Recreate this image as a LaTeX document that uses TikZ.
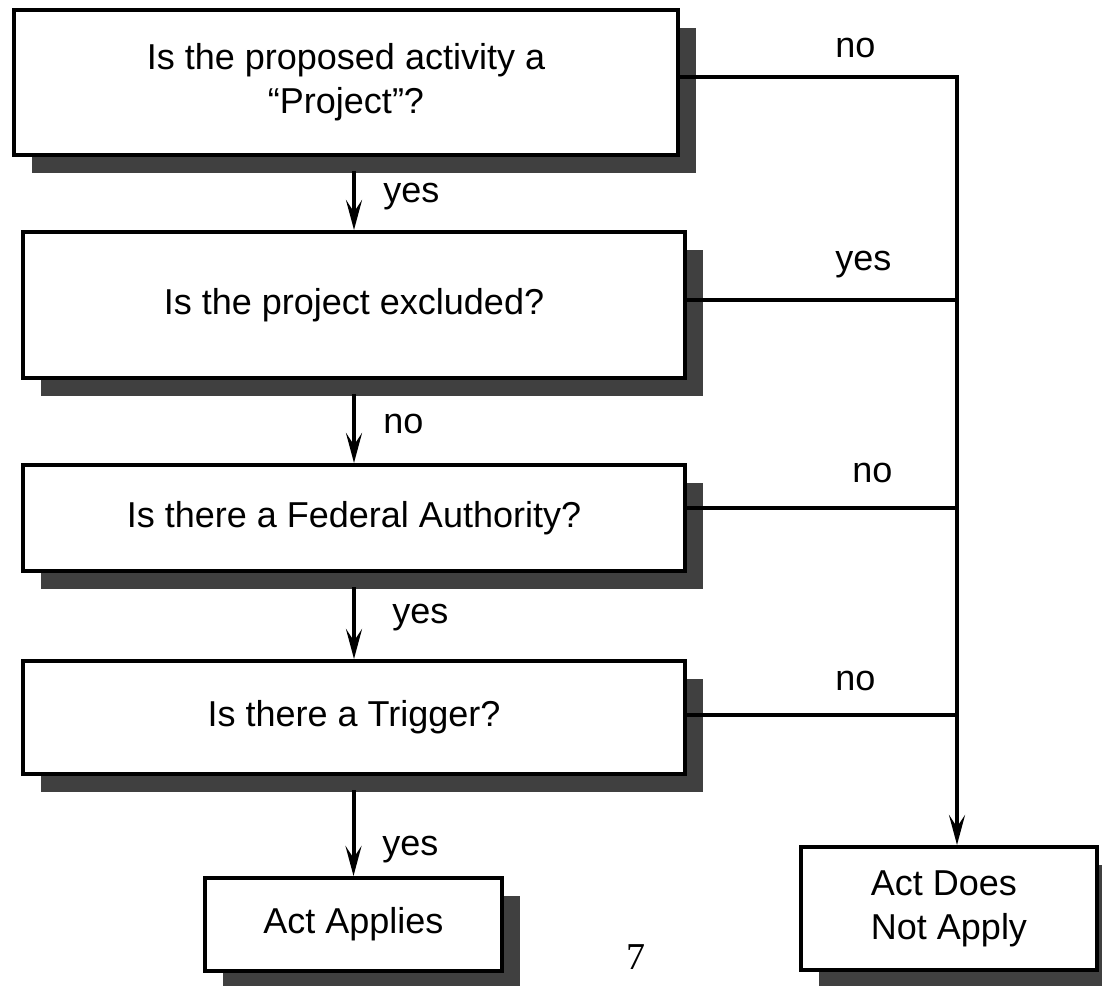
\documentclass[tikz,border=0pt]{standalone}
\usepackage{fontspec}
\setmainfont{Liberation Sans}
\newfontfamily\pagefont{Liberation Serif}
\usepackage{tikz}
\usetikzlibrary{arrows.meta}
\usetikzlibrary{shadows}
\definecolor{shadowgray}{RGB}{64,64,64}

\begin{document}
\begin{tikzpicture}[x=1pt,y=-1pt,
    box/.style={draw=black, line width=4pt, fill=white, align=center, font=\fontsize{36}{44}\selectfont,
        drop shadow={shadow xshift=18pt, shadow yshift=-18pt, fill=shadowgray, opacity=1}},
    flow/.style={line width=4pt, -{Stealth[length=30pt,width=16pt,inset=12pt]}},
    link/.style={line width=4pt},
    lbl/.style={anchor=base west, font=\fontsize{36}{44}\selectfont}]
     \useasboundingbox (0,0) rectangle (1102,985);
     % question boxes
     \node[box, minimum width=664pt, minimum height=145pt] (b1) at (346,82.5) {Is the proposed activity a\\“Project”?};
     \node[box, minimum width=662pt, minimum height=146pt] (b2) at (354,305) {Is the project excluded?};
     \node[box, minimum width=662pt, minimum height=106pt] (b3) at (354,518) {Is there a Federal Authority?};
     \node[box, minimum width=662pt, minimum height=113pt] (b4) at (354,717.5) {Is there a Trigger?};
     % outcomes
     \node[box, minimum width=297pt, minimum height=93pt] (aa) at (353.5,924.5) {Act Applies};
     \node[box, align=left, minimum width=296pt, minimum height=123pt] (na) at (949,908.5) {Act Does\\Not Apply};
     \node[font=\pagefont\fontsize{38}{44}\selectfont] (pg) at (636,957) {7};
     % yes/no down the left
     \draw[flow] (b1.south -| b2.north) ++(0,14) -- (b2.north) node[lbl] at (378,202) {yes};
     \draw[flow] (b2.south -| b3.north) ++(0,14) -- (b3.north) node[lbl] at (378,433) {no};
     \draw[flow] (b3.south -| b4.north) ++(0,14) -- (b4.north) node[lbl] at (387,623) {yes};
     \draw[flow] (b4.south -| aa.north) ++(0,14) -- (aa.north) node[lbl] at (377,855) {yes};
     % exits to the right
     \coordinate (top) at (957,77);
     \draw[link] ([yshift=5.5pt]b1.east) -- (top) node[lbl] at (830,57) {no};
     \draw[link] ([yshift=5pt]b2.east) -- ([yshift=5pt]b2.east -| top) node[lbl] at (830,270) {yes};
     \draw[link] ([yshift=10pt]b3.east) -- ([yshift=10pt]b3.east -| top) node[lbl] at (847,482) {no};
     \draw[link] ([yshift=2.5pt]b4.east) -- ([yshift=2.5pt]b4.east -| top) node[lbl] at (830,690) {no};
     \draw[flow] ([yshift=2pt]top) -- (top |- na.north);
    \end{tikzpicture}
\end{document}
